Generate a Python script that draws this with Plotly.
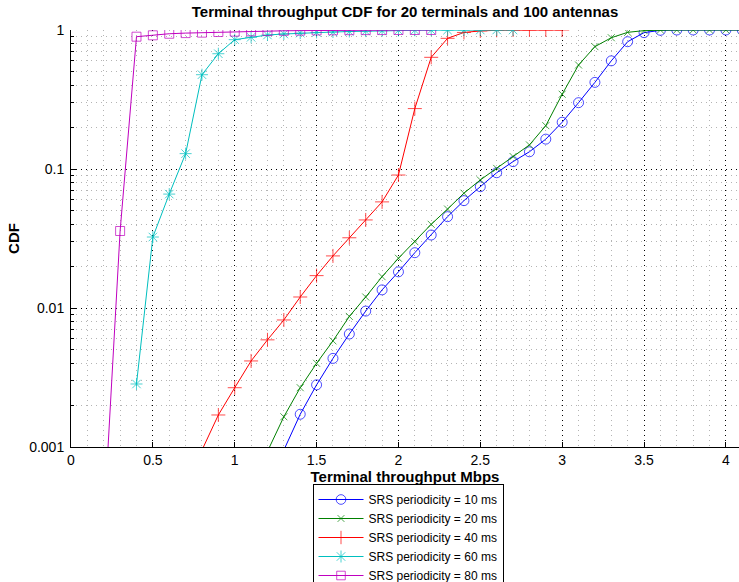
import plotly.graph_objects as go

# ---- data (throughput in Mbps, CDF values) ----
x_10 = [1.3, 1.4, 1.5, 1.6, 1.7, 1.8, 1.9, 2.0, 2.1, 2.2, 2.3, 2.4, 2.5, 2.6, 2.7, 2.8, 2.9,
        3.0, 3.1, 3.2, 3.3, 3.4, 3.5, 3.6, 3.7, 3.8, 3.9, 4.0, 4.1]
cdf_10 = [0.00095, 0.00172, 0.0028, 0.00434, 0.0065, 0.0095, 0.0135, 0.0182, 0.0250, 0.0335,
          0.0454, 0.0592, 0.0746, 0.094, 0.113, 0.133, 0.164, 0.217, 0.30, 0.42, 0.60, 0.824,
          0.957, 0.995, 1.0, 1.0, 1.0, 1.0, 1.0]

x_20 = [1.2, 1.3, 1.4, 1.5, 1.6, 1.7, 1.8, 1.9, 2.0, 2.1, 2.2, 2.3, 2.4, 2.5, 2.6, 2.7, 2.8,
        2.9, 3.0, 3.1, 3.2, 3.3, 3.4, 3.5, 3.6, 3.7, 3.8, 3.9, 4.0, 4.1]
cdf_20 = [0.00093, 0.00165, 0.00267, 0.0040, 0.0058, 0.0087, 0.012, 0.0168, 0.0228, 0.030,
          0.040, 0.0515, 0.067, 0.0834, 0.101, 0.123, 0.149, 0.205, 0.345, 0.56, 0.759, 0.88,
          0.962, 0.99, 1.0, 1.0, 1.0, 1.0, 1.0, 1.0]

x_40 = [0.8, 0.9, 1.0, 1.1, 1.2, 1.3, 1.4, 1.5, 1.6, 1.7, 1.8, 1.9, 2.0, 2.1, 2.2, 2.3, 2.4,
        2.5, 2.6, 2.7, 2.8, 2.9, 3.0]
cdf_40 = [0.00095, 0.0017, 0.00267, 0.00416, 0.0059, 0.0082, 0.012, 0.0171, 0.0237, 0.032,
          0.043, 0.058, 0.0905, 0.272, 0.636, 0.871, 0.96, 0.985, 0.995, 1.0, 1.0, 1.0, 1.0]

x_60 = [0.4, 0.5, 0.6, 0.7, 0.8, 0.9, 1.0, 1.1, 1.2, 1.3, 1.4, 1.5, 1.6, 1.7, 1.8, 1.9, 2.0,
        2.1, 2.2, 2.3, 2.4, 2.5, 2.6, 2.7]
cdf_60 = [0.00284, 0.0324, 0.066, 0.129, 0.477, 0.675, 0.852, 0.886, 0.92, 0.936, 0.95, 0.96,
          0.967, 0.975, 0.982, 0.988, 0.992, 0.995, 0.997, 0.998, 0.999, 1.0, 1.0, 1.0]

x_80 = [0.2, 0.3, 0.4, 0.5, 0.6, 0.7, 0.8, 0.9, 1.0, 1.1, 1.2, 1.3, 1.4, 1.5, 1.6, 1.7, 1.8,
        1.9, 2.0, 2.1, 2.2]
cdf_80 = [0.00028, 0.0358, 0.895, 0.916, 0.94, 0.95, 0.957, 0.967, 0.973, 0.978, 0.983, 0.987,
          0.99, 0.993, 0.995, 0.997, 0.998, 0.999, 1.0, 1.0, 1.0]

series_names = ["SRS periodicity = 10 ms", "SRS periodicity = 20 ms", "SRS periodicity = 40 ms",
                "SRS periodicity = 60 ms", "SRS periodicity = 80 ms"]

y_tick_vals = [0.001, 0.01, 0.1, 1]
y_tick_text = ["0.001", "0.01", "0.1", "1"]
x_tick_vals = [0, 0.5, 1, 1.5, 2, 2.5, 3, 3.5, 4]
x_tick_text = ["0", "0.5", "1", "1.5", "2", "2.5", "3", "3.5", "4"]

# ---- styling ----
colors = ["#0000FF", "#008000", "#FF0000", "#00BFBF", "#BF00BF"]
symbols = ["circle-open", "x-thin-open", "cross-thin-open", "asterisk-open", "square-open"]
msizes = [10, 7, 10, 10, 9]
FONT = "Liberation Sans, Arial, sans-serif"
YMIN = 0.001

fig = go.Figure()
for xs, ys, name, c, sym, ms in zip([x_10, x_20, x_40, x_60, x_80],
                                    [cdf_10, cdf_20, cdf_40, cdf_60, cdf_80],
                                    series_names, colors, symbols, msizes):
    fig.add_trace(go.Scatter(
        x=xs, y=ys, name=name, mode="lines+markers",
        line=dict(color=c, width=1),
        marker=dict(symbol=sym, size=[ms if v >= YMIN else 0 for v in ys], color=c,
                    line=dict(color=c, width=1)),
    ))

minor_y = [m * 10 ** e for e in (-3, -2, -1) for m in range(2, 10)]

fig.update_layout(
    width=739, height=582,
    margin=dict(l=71, r=0, t=30, b=135, autoexpand=False),
    paper_bgcolor="white", plot_bgcolor="white",
    font=dict(family=FONT, size=14, color="black"),
    title=dict(text="<b>Terminal throughput CDF for 20 terminals and 100 antennas</b>",
               x=0.5, xref="paper", xanchor="center", y=1 - 12 / 582, yref="container",
               yanchor="middle", font=dict(size=15, family=FONT)),
    showlegend=True,
    legend=dict(x=(408 - 71) / 668, xanchor="center", y=-(484 - 447) / 417, yanchor="top",
                bgcolor="white", bordercolor="black", borderwidth=1,
                font=dict(size=12, family=FONT), itemwidth=45, tracegroupgap=0),
)

fig.update_xaxes(
    range=[0, 4.08], tickmode="array", tickvals=x_tick_vals, ticktext=x_tick_text,
    ticks="inside", ticklen=5, tickcolor="black", showline=True, linecolor="black",
    linewidth=1, mirror=False, zeroline=False,
    showgrid=True, gridcolor="black", griddash="1px,4px", gridwidth=1,
    tickfont=dict(size=14),
    minor=dict(dtick=0.1, tick0=0, showgrid=True, gridcolor="#b4b4b4", griddash="1px,4px",
               gridwidth=1, ticks=""),
    title=dict(text="<b>Terminal throughput Mbps</b>", standoff=2, font=dict(size=15)),
)
fig.update_yaxes(
    type="log", range=[-3, 0], tickmode="array", tickvals=y_tick_vals, ticktext=y_tick_text,
    ticks="inside", ticklen=5, tickcolor="black", showline=True, linecolor="black",
    linewidth=1, mirror=False, zeroline=False, ticklabelstandoff=3,
    showgrid=True, gridcolor="black", griddash="1px,4px", gridwidth=1,
    tickfont=dict(size=14),
    minor=dict(tickmode="array", tickvals=minor_y, showgrid=True, gridcolor="#b4b4b4",
               griddash="1px,4px", gridwidth=1, ticks="inside", ticklen=3, tickcolor="black"),
    title=dict(text="<b>CDF</b>", standoff=5, font=dict(size=15)),
)

fig.write_html("out.html")
